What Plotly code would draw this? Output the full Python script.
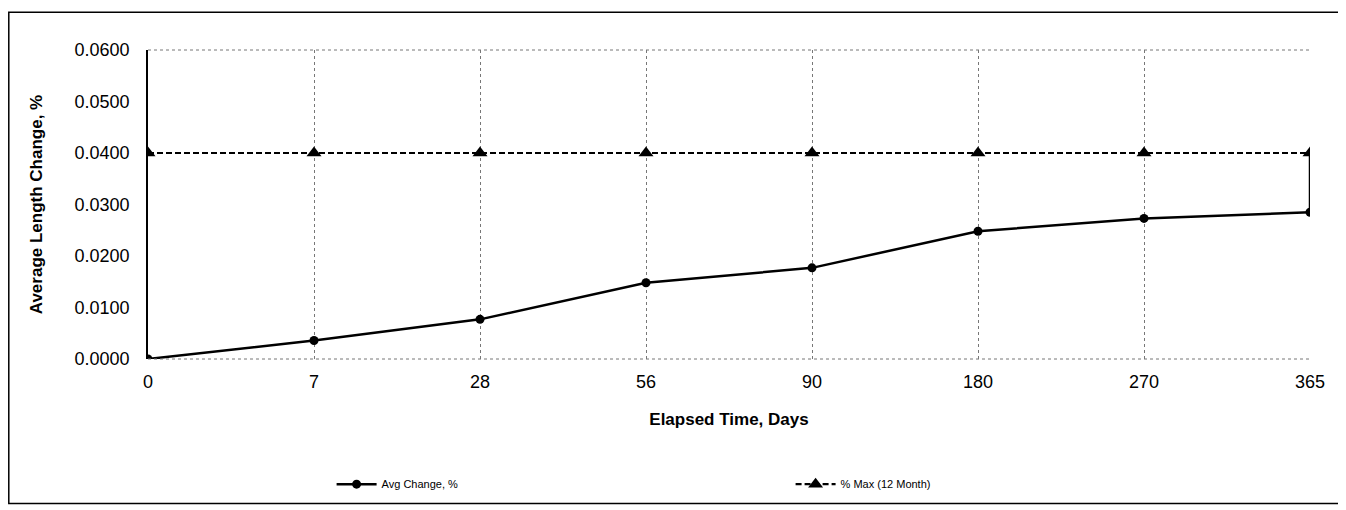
import plotly.graph_objects as go

days = ["0", "7", "28", "56", "90", "180", "270", "365"]
avg_change = [0.0000, 0.0036, 0.0077, 0.0148, 0.0177, 0.0248, 0.0273, 0.0285]
max_12_month = [0.0400, 0.0400, 0.0400, 0.0400, 0.0400, 0.0400, 0.0400, 0.0400]
y_ticks = [0.00, 0.01, 0.02, 0.03, 0.04, 0.05, 0.06]

FONT = "Arial, 'Liberation Sans', sans-serif"

fig = go.Figure()

fig.add_trace(go.Scatter(
    x=days, y=avg_change, name="Avg Change, %", mode="lines+markers",
    line=dict(color="black", width=2.5),
    marker=dict(symbol="circle", size=9, color="black"),
    legend="legend",
))
fig.add_trace(go.Scatter(
    x=days, y=max_12_month, name="% Max (12 Month)", mode="lines+markers",
    line=dict(color="black", width=2.2, dash="6px,3px"),
    marker=dict(symbol="triangle-up", size=13, color="black"),
    legend="legend2",
))
# connector at the last point
fig.add_trace(go.Scatter(
    x=[days[-1], days[-1]], y=[avg_change[-1], max_12_month[-1]],
    mode="lines", line=dict(color="black", width=2.5),
    showlegend=False, hoverinfo="skip",
))

fig.update_layout(
    width=1338, height=502,
    margin=dict(l=140, r=36, t=42, b=148),
    paper_bgcolor="white", plot_bgcolor="white",
    font=dict(family=FONT, color="black"),
    legend=dict(
        x=0.158, y=-0.405, xanchor="left", yanchor="middle",
        orientation="h", font=dict(size=11, family=FONT, color="black"),
        bgcolor="rgba(0,0,0,0)", itemwidth=40,
    ),
    legend2=dict(
        x=0.553, y=-0.405, xanchor="left", yanchor="middle",
        orientation="h", font=dict(size=11, family=FONT, color="black"),
        bgcolor="rgba(0,0,0,0)", itemwidth=40,
    ),
    xaxis=dict(
        type="category", range=[0, 7],
        showgrid=True, gridcolor="#777", griddash="dot", gridwidth=1,
        showline=False, zeroline=False, ticks="",
        tickfont=dict(size=18, family=FONT, color="black"),
        ticklabelstandoff=10,
        title=dict(text="<b>Elapsed Time, Days</b>", font=dict(size=17, family=FONT),
                   standoff=22),
    ),
    yaxis=dict(
        range=[0, 0.06], tickvals=y_ticks, tickformat=".4f",
        showgrid=False, zeroline=False,
        showline=True, linecolor="black", linewidth=1.5,
        ticks="", tickfont=dict(size=18, family=FONT, color="black"),
        ticklabelstandoff=13,
        title=dict(text="<b>Average Length Change, %</b>", font=dict(size=17, family=FONT),
                   standoff=28),
    ),
    shapes=[
        # plot area top and bottom borders (dotted)
        dict(type="line", xref="paper", yref="paper", x0=0, x1=1, y0=1, y1=1,
             line=dict(color="#777", width=1, dash="dot")),
        dict(type="line", xref="paper", yref="paper", x0=0, x1=1, y0=0, y1=0,
             line=dict(color="#777", width=1, dash="dot")),
        # outer chart border
        dict(type="rect", xref="paper", yref="paper",
             x0=-0.1198, x1=1.0284, y0=-0.468, y1=1.1218,
             line=dict(color="black", width=1.5), fillcolor="rgba(0,0,0,0)", layer="below"),
    ],
)

fig.write_html("out.html")
